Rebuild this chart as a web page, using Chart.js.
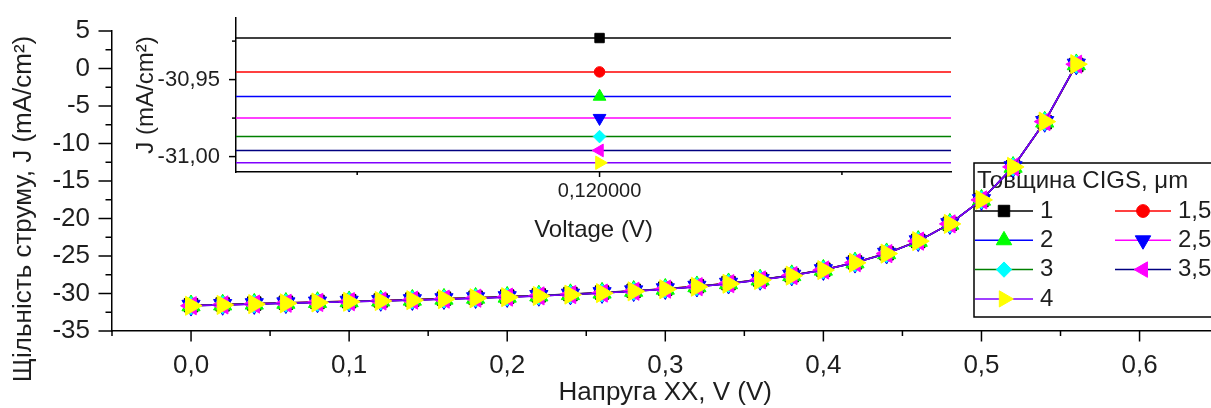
<!DOCTYPE html>
<html>
<head>
<meta charset="utf-8">
<title>ВАХ CIGS</title>
<script src="https://cdn.jsdelivr.net/npm/chart.js@4.4.1/dist/chart.umd.min.js"></script>
<style>
  html, body { margin: 0; padding: 0; background: #fff; overflow: hidden; }
  #wrap { position: relative; width: 1240px; height: 408px; }
  #mainChart, #insetChart { position: absolute; left: 0; top: 0; }
</style>
</head>
<body>
<div id="wrap">
  <canvas id="mainChart" width="1240" height="408"></canvas>
  <canvas id="insetChart" width="1000" height="260"></canvas>
</div>
<script>
// напруга, V
const voltage = [0.00, 0.02, 0.04, 0.06, 0.08, 0.10, 0.12, 0.14, 0.16, 0.18,
                 0.20, 0.22, 0.24, 0.26, 0.28, 0.30, 0.32, 0.34, 0.36, 0.38,
                 0.40, 0.42, 0.44, 0.46, 0.48, 0.50, 0.52, 0.54, 0.56];

// товщина шару CIGS, мкм
const thickness = ['1', '1,5', '2', '2,5', '3', '3,5', '4'];

// густина струму, mA/cm2
const j1  = [-31.56, -31.45, -31.34, -31.23, -31.12, -31.02, -30.923, -30.81, -30.68, -30.55,
             -30.41, -30.25, -30.07, -29.87, -29.63, -29.35, -29.02, -28.62, -28.13, -27.55,
             -26.82, -25.85, -24.64, -22.99, -20.71, -17.53, -13.16, -7.16, 0.47];
const j15 = [-31.58, -31.47, -31.36, -31.25, -31.14, -31.04, -30.945, -30.83, -30.70, -30.57,
             -30.43, -30.27, -30.09, -29.89, -29.65, -29.37, -29.04, -28.64, -28.15, -27.57,
             -26.84, -25.87, -24.65, -23.00, -20.71, -17.52, -13.14, -7.13, 0.51];
const j2  = [-31.60, -31.49, -31.38, -31.27, -31.16, -31.06, -30.961, -30.85, -30.72, -30.59,
             -30.45, -30.29, -30.11, -29.91, -29.67, -29.39, -29.06, -28.66, -28.16, -27.58,
             -26.85, -25.88, -24.66, -23.01, -20.72, -17.52, -13.13, -7.11, 0.54];
const j25 = [-31.61, -31.50, -31.39, -31.28, -31.17, -31.07, -30.975, -30.86, -30.73, -30.60,
             -30.46, -30.30, -30.12, -29.92, -29.68, -29.40, -29.07, -28.67, -28.17, -27.59,
             -26.86, -25.88, -24.67, -23.01, -20.72, -17.52, -13.13, -7.10, 0.55];
const j3  = [-31.62, -31.51, -31.40, -31.29, -31.18, -31.08, -30.987, -30.87, -30.74, -30.61,
             -30.47, -30.31, -30.13, -29.93, -29.69, -29.41, -29.08, -28.68, -28.18, -27.60,
             -26.87, -25.89, -24.67, -23.02, -20.72, -17.52, -13.12, -7.09, 0.56];
const j35 = [-31.63, -31.52, -31.41, -31.30, -31.19, -31.09, -30.996, -30.88, -30.75, -30.62,
             -30.48, -30.32, -30.14, -29.94, -29.70, -29.42, -29.09, -28.69, -28.19, -27.61,
             -26.87, -25.89, -24.68, -23.02, -20.72, -17.52, -13.12, -7.08, 0.57];
const j4  = [-31.64, -31.53, -31.42, -31.31, -31.20, -31.10, -31.004, -30.89, -30.76, -30.63,
             -30.49, -30.33, -30.15, -29.95, -29.71, -29.43, -29.10, -28.70, -28.20, -27.62,
             -26.88, -25.90, -24.68, -23.02, -20.72, -17.52, -13.12, -7.08, 0.58];

const series = [j1, j15, j2, j25, j3, j35, j4];

// поділки осей
const xMajor = [0, 0.1, 0.2, 0.3, 0.4, 0.5, 0.6];
const xMinor = [-0.05, 0.05, 0.15, 0.25, 0.35, 0.45, 0.55, 0.65];
const yMajor = [5, 0, -5, -10, -15, -20, -25, -30, -35];
const yMinor = [2.5, -2.5, -7.5, -12.5, -17.5, -22.5, -27.5, -32.5];

const insetXMajor = [0.12];
const insetXMinor = [0.11999, 0.12001];
const insetYMajor = [-30.95, -31.00];
const insetYMinor = [-30.925, -30.975];

// стилі серій
const lineColors   = ['#000000', '#ff0000', '#0000ff', '#ff00ff', '#008000', '#000080', '#8000ff'];
const markerColors = ['#000000', '#ff0000', '#00ff00', '#0000ff', '#00ffff', '#ff00ff', '#ffff00'];
const markers = [
  { style: 'rect',     rotation: 0,   k: 0.95 },
  { style: 'circle',   rotation: 0,   k: 0.75 },
  { style: 'triangle', rotation: 0,   k: 1.05 },
  { style: 'triangle', rotation: 180, k: 1.05 },
  { style: 'rectRot',  rotation: 0,   k: 0.9 },
  { style: 'triangle', rotation: -90, k: 1.05 },
  { style: 'triangle', rotation: 90,  k: 1.1 }
];

const FONT = "'Liberation Sans', Arial, sans-serif";
const TEXT = '#1e1e1e';
Chart.defaults.font.family = FONT;
Chart.defaults.color = TEXT;

const comma = (v, d) => v.toFixed(d).replace('.', ',');

function makeDatasets(r, withLine) {
  return series.map((vals, i) => ({
    label: thickness[i],
    data: vals.map((j, k) => ({ x: voltage[k], y: j })),
    showLine: withLine,
    borderColor: lineColors[i],
    backgroundColor: markerColors[i],
    pointBackgroundColor: markerColors[i],
    pointBorderColor: markerColors[i],
    pointBorderWidth: 1,
    pointStyle: markers[i].style,
    pointRotation: markers[i].rotation,
    pointRadius: r * markers[i].k,
    borderWidth: 1.5,
    order: series.length - i
  }));
}

// фіксовані розміри осей, без додаткових відступів під крайні підписи
const fixX = h => s => { s.height = h; s.paddingLeft = 0; s.paddingRight = 0; };
const fixY = w => s => { s.width = w; s.paddingTop = 0; s.paddingBottom = 0; };

// зовнішні поділки різної довжини
const outerTicks = {
  id: 'outerTicks',
  afterDraw(chart, args, opts) {
    const ctx = chart.ctx;
    ctx.save();
    ctx.strokeStyle = '#000';
    ctx.lineWidth = 1.5;
    opts.axes.forEach(a => {
      const scale = chart.scales[a.id];
      const draw = (vals, len) => vals.forEach(v => {
        const p = scale.getPixelForValue(v);
        ctx.beginPath();
        if (scale.isHorizontal()) {
          ctx.moveTo(p, scale.top);
          ctx.lineTo(p, scale.top + len);
        } else {
          ctx.moveTo(scale.right, p);
          ctx.lineTo(scale.right - len, p);
        }
        ctx.stroke();
      });
      draw(a.major, a.majorLen);
      draw(a.minor, a.minorLen);
    });
    ctx.restore();
  }
};

// у вставці крива майже горизонтальна: рівень кожної серії при заданій напрузі
const levelLines = {
  id: 'levelLines',
  beforeDatasetsDraw(chart, args, o) {
    const ctx = chart.ctx;
    const area = chart.chartArea;
    const yScale = chart.scales.y;
    const idx = voltage.indexOf(o.at);
    ctx.save();
    ctx.beginPath();
    ctx.rect(area.left, area.top, area.right - area.left, area.bottom - area.top);
    ctx.clip();
    ctx.lineWidth = 1.5;
    chart.data.datasets.forEach(ds => {
      const y = yScale.getPixelForValue(ds.data[idx].y);
      ctx.strokeStyle = ds.borderColor;
      ctx.beginPath();
      ctx.moveTo(area.left, y);
      ctx.lineTo(area.right, y);
      ctx.stroke();
    });
    ctx.restore();
  }
};

// підпис осі Y основного графіка
const yTitle = {
  id: 'yTitle',
  afterDraw(chart, args, o) {
    const ctx = chart.ctx;
    ctx.save();
    ctx.translate(o.x, o.y);
    ctx.rotate(-Math.PI / 2);
    ctx.font = o.size + 'px ' + FONT;
    ctx.fillStyle = TEXT;
    ctx.textAlign = 'center';
    ctx.textBaseline = 'middle';
    ctx.fillText(o.text, 0, 0);
    ctx.restore();
  }
};

// легенда в рамці, дві колонки
const boxLegend = {
  id: 'boxLegend',
  beforeDatasetsDraw(chart, args, o) {
    const ctx = chart.ctx;
    ctx.save();
    ctx.fillStyle = '#fff';
    ctx.fillRect(o.left, o.top, o.width, o.height);
    ctx.lineWidth = 1.5;
    ctx.strokeStyle = '#000';
    ctx.strokeRect(o.left, o.top, o.width, o.height);
    ctx.font = o.size + 'px ' + FONT;
    ctx.fillStyle = TEXT;
    ctx.textBaseline = 'middle';
    ctx.fillText(o.title, o.left + 3, o.top + 18);
    chart.data.datasets.forEach((ds, i) => {
      const col = o.cols[i % 2];
      const y = o.firstRow + Math.floor(i / 2) * o.rowStep;
      ctx.strokeStyle = ds.borderColor;
      ctx.lineWidth = 1.5;
      ctx.beginPath();
      ctx.moveTo(col.x0, y);
      ctx.lineTo(col.x1, y);
      ctx.stroke();
      ctx.fillStyle = ds.pointBackgroundColor;
      ctx.strokeStyle = ds.pointBorderColor;
      ctx.lineWidth = 1;
      Chart.helpers.drawPoint(ctx, {
        pointStyle: ds.pointStyle,
        rotation: ds.pointRotation,
        radius: o.radius * markers[i].k,
        borderWidth: 1
      }, (col.x0 + col.x1) / 2, y);
      ctx.fillStyle = TEXT;
      ctx.fillText(ds.label, col.x1 + 7, y);
    });
    ctx.restore();
  }
};

new Chart(document.getElementById('mainChart'), {
  type: 'scatter',
  data: { datasets: makeDatasets(10, true) },
  plugins: [outerTicks, yTitle, boxLegend],
  options: {
    responsive: false,
    animation: false,
    devicePixelRatio: 1,
    layout: { padding: { left: 0, top: 31, right: 21.4, bottom: 0 } },
    scales: {
      x: {
        type: 'linear',
        min: -0.05,
        max: 0.65,
        afterBuildTicks: s => { s.ticks = xMajor.map(v => ({ value: v })); },
        afterFit: fixX(77),
        grid: { display: false, drawTicks: false },
        border: { display: true, color: '#000', width: 1.5 },
        ticks: { autoSkip: false, maxRotation: 0, padding: 19, font: { size: 26 },
                 callback: v => comma(v, 1) },
        title: { display: true, text: 'Напруга XX, V (V)', font: { size: 26 },
                 padding: { top: 0, bottom: 0 } }
      },
      y: {
        type: 'linear',
        min: -35,
        max: 5,
        afterBuildTicks: s => { s.ticks = yMajor.map(v => ({ value: v })); },
        afterFit: fixY(112),
        grid: { display: false, drawTicks: false },
        border: { display: true, color: '#000', width: 1.5 },
        ticks: { autoSkip: false, padding: 22, font: { size: 26 },
                 callback: v => String(v) }
      }
    },
    plugins: {
      legend: { display: false },
      tooltip: { enabled: false },
      outerTicks: { axes: [
        { id: 'x', major: xMajor, minor: xMinor, majorLen: 10.5, minorLen: 5 },
        { id: 'y', major: yMajor, minor: yMinor, majorLen: 13.5, minorLen: 6.5 }
      ] },
      yTitle: { text: 'Щільність струму, J (mA/cm²)', x: 24, y: 209, size: 26 },
      boxLegend: {
        title: 'Товщина CIGS, μm', size: 24,
        left: 974, top: 163, width: 280, height: 154,
        firstRow: 211, rowStep: 29.3, radius: 8.5,
        cols: [{ x0: 975, x1: 1033 }, { x0: 1115, x1: 1171 }]
      }
    }
  }
});

// вставка: збільшений фрагмент біля V = 0,12 V
new Chart(document.getElementById('insetChart'), {
  type: 'scatter',
  data: { datasets: makeDatasets(7, false) },
  plugins: [outerTicks, levelLines],
  options: {
    responsive: false,
    animation: false,
    devicePixelRatio: 1,
    layout: { padding: { left: 120, top: 18, right: 49, bottom: 0 } },
    scales: {
      x: {
        type: 'linear',
        min: 0.1199850,
        max: 0.1200145,
        afterBuildTicks: s => { s.ticks = insetXMajor.map(v => ({ value: v })); },
        afterFit: fixX(88),
        grid: { display: false, drawTicks: false },
        border: { display: true, color: '#000', width: 1.5 },
        ticks: { autoSkip: false, maxRotation: 0, padding: 7, font: { size: 20 },
                 callback: v => comma(v, 6) },
        title: { display: true, text: 'Voltage (V)', font: { size: 24 },
                 padding: { top: 0, bottom: 15.5 } }
      },
      y: {
        type: 'linear',
        min: -31.01,
        max: -30.91,
        afterBuildTicks: s => { s.ticks = insetYMajor.map(v => ({ value: v })); },
        afterFit: fixY(116),
        grid: { display: false, drawTicks: false },
        border: { display: true, color: '#000', width: 1.5 },
        ticks: { autoSkip: false, padding: 16, font: { size: 22 },
                 callback: v => comma(v, 2) },
        title: { display: true, text: 'J (mA/cm²)', font: { size: 24 },
                 padding: { top: 11.6, bottom: 0 } }
      }
    },
    plugins: {
      legend: { display: false },
      tooltip: { enabled: false },
      outerTicks: { axes: [
        { id: 'x', major: insetXMajor, minor: insetXMinor, majorLen: 5, minorLen: 3 },
        { id: 'y', major: insetYMajor, minor: insetYMinor, majorLen: 7, minorLen: 4 }
      ] },
      levelLines: { at: 0.12 }
    }
  }
});
</script>
</body>
</html>
